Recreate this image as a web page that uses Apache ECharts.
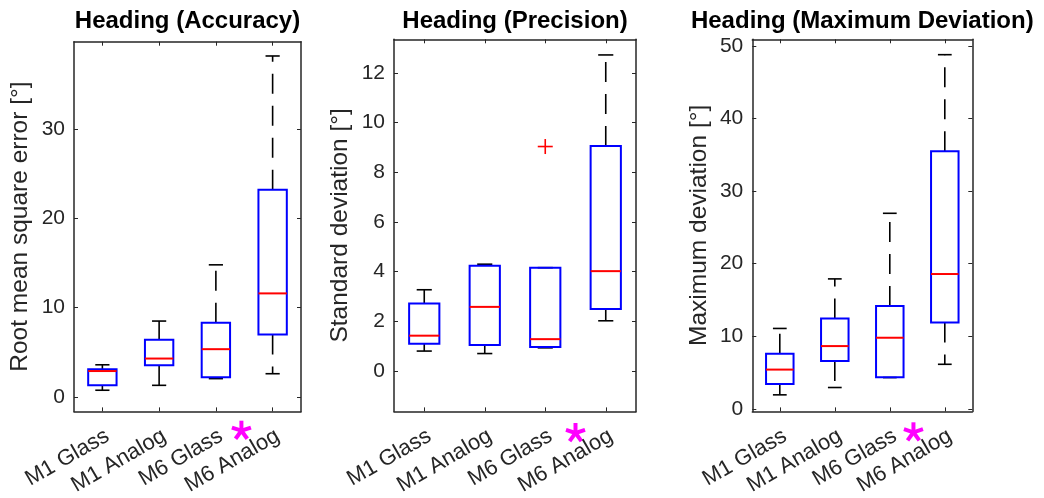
<!DOCTYPE html>
<html lang="en">
<head>
<meta charset="UTF-8">
<title>Heading boxplots</title>
<script src="https://cdn.jsdelivr.net/npm/echarts@6/dist/echarts.min.js"></script>
<style>
    html, body { margin: 0; padding: 0; background: #fff; }
    #main { width: 1044px; height: 498px; }
</style>
</head>
<body>
<div id="main"></div>
<script>
    // categories and box statistics: [lower whisker, q1, median, q3, upper whisker]
    var categories = ['M1 Glass', 'M1 Analog', 'M6 Glass', 'M6 Analog'];

    var accuracyBoxes = [
        [0.75, 1.3, 2.9, 3.1, 3.6],
        [1.3, 3.55, 4.3, 6.4, 8.5],
        [2.05, 2.2, 5.35, 8.3, 14.8],
        [2.6, 7.0, 11.6, 23.2, 38.2]
    ];
    var precisionBoxes = [
        [0.8, 1.09, 1.42, 2.72, 3.27],
        [0.7, 1.04, 2.58, 4.24, 4.3],
        [0.93, 0.96, 1.28, 4.16, 4.16],
        [2.02, 2.49, 4.02, 9.06, 12.73]
    ];
    var maxDevBoxes = [
        [1.92, 3.43, 5.4, 7.6, 11.07],
        [2.93, 6.58, 8.64, 12.44, 17.9],
        [4.3, 4.35, 9.79, 14.18, 26.94],
        [6.13, 11.9, 18.57, 35.5, 48.8]
    ];

    // outliers: [category index, value]
    var accuracyOutliers = [];
    var precisionOutliers = [[2, 9.04]];
    var maxDevOutliers = [];

    // y tick values
    var accuracyTicks = [0, 10, 20, 30];
    var precisionTicks = [0, 2, 4, 6, 8, 10, 12];
    var maxDevTicks = [0, 10, 20, 30, 40, 50];

    var titles = ['Heading (Accuracy)', 'Heading (Precision)', 'Heading (Maximum Deviation)'];
    var yNames = ['Root mean square error [°]', 'Standard deviation [°]', 'Maximum deviation [°]'];

    var panels = [
        {boxes: accuracyBoxes, outliers: accuracyOutliers, ticks: accuracyTicks, min: -1.62, max: 39.8,
            grid: {left: 74, top: 41.7, width: 227, height: 370}, star: 0.45},
        {boxes: precisionBoxes, outliers: precisionOutliers, ticks: precisionTicks, min: -1.63, max: 13.36,
            grid: {left: 394, top: 39.3, width: 242, height: 374.7}, star: 0.5},
        {boxes: maxDevBoxes, outliers: maxDevOutliers, ticks: maxDevTicks, min: -0.36, max: 50.92,
            grid: {left: 752.3, top: 39.3, width: 220, height: 374}, star: 0.43}
    ];

    var FONT = 'Liberation Sans, Arial, sans-serif';
    var AXIS = '#262626';

    function renderBox(params, api) {
        var idx = api.value(0);
        var lo = api.coord([idx, api.value(1)]);
        var q1 = api.coord([idx, api.value(2)]);
        var md = api.coord([idx, api.value(3)]);
        var q3 = api.coord([idx, api.value(4)]);
        var hi = api.coord([idx, api.value(5)]);
        var band = api.size([1, 0])[0];
        var half = band * 0.25, cap = band * 0.125;
        var x = q1[0];
        var dashed = {stroke: '#000', lineWidth: 1.6, lineDash: [20, 12]};
        var solid = {stroke: '#000', lineWidth: 1.6};
        return {
            type: 'group',
            children: [
                {type: 'line', shape: {x1: x, y1: q3[1], x2: x, y2: hi[1]}, style: dashed},
                {type: 'line', shape: {x1: x, y1: q1[1], x2: x, y2: lo[1]}, style: dashed},
                {type: 'line', shape: {x1: x - cap, y1: hi[1], x2: x + cap, y2: hi[1]}, style: solid},
                {type: 'line', shape: {x1: x - cap, y1: lo[1], x2: x + cap, y2: lo[1]}, style: solid},
                {type: 'rect', shape: {x: x - half, y: q3[1], width: half * 2, height: q1[1] - q3[1]},
                    style: {fill: 'none', stroke: '#0000ff', lineWidth: 2}},
                {type: 'line', shape: {x1: x - half, y1: md[1], x2: x + half, y2: md[1]},
                    style: {stroke: '#ff0000', lineWidth: 2}}
            ]
        };
    }

    function renderPlus(params, api) {
        var p = api.coord([api.value(0), api.value(1)]);
        var s = 7.5;
        var st = {stroke: '#ff0000', lineWidth: 1.6};
        return {
            type: 'group',
            children: [
                {type: 'line', shape: {x1: p[0] - s, y1: p[1], x2: p[0] + s, y2: p[1]}, style: st},
                {type: 'line', shape: {x1: p[0], y1: p[1] - s, x2: p[0], y2: p[1] + s}, style: st}
            ]
        };
    }

    var option = {
        animation: false,
        grid: [],
        xAxis: [],
        yAxis: [],
        series: []
    };

    panels.forEach(function (p, i) {
        option.grid.push({left: p.grid.left, top: p.grid.top, width: p.grid.width, height: p.grid.height});
        ['bottom', 'top'].forEach(function (pos) {
            option.xAxis.push({
                type: 'category', gridIndex: i, position: pos, data: categories, boundaryGap: true,
                axisLine: {show: true, onZero: false, lineStyle: {color: AXIS, width: 1.5}},
                axisTick: {show: true, inside: true, alignWithLabel: true, length: 4, lineStyle: {color: AXIS}},
                axisLabel: {show: pos === 'bottom', interval: 0, rotate: 30, margin: 26,
                    padding: [0, -6, 0, 0],
                    fontSize: 22, color: AXIS, fontFamily: FONT},
                splitLine: {show: false}
            });
        });
        ['left', 'right'].forEach(function (pos) {
            option.yAxis.push({
                type: 'value', gridIndex: i, position: pos, min: p.min, max: p.max,
                axisLine: {show: true, onZero: false, lineStyle: {color: AXIS, width: 1.5}},
                axisTick: {show: true, inside: true, length: 4, customValues: p.ticks, lineStyle: {color: AXIS}},
                axisLabel: {show: pos === 'left', customValues: p.ticks, margin: 9,
                    fontSize: 21, color: AXIS, fontFamily: FONT},
                splitLine: {show: false},
                name: pos === 'left' ? yNames[i] : '',
                nameLocation: 'middle', nameGap: 41,
                nameTextStyle: {fontSize: 24.5, color: AXIS, fontFamily: FONT}
            });
        });
        option.series.push({
            type: 'custom', xAxisIndex: i * 2, yAxisIndex: i * 2,
            renderItem: renderBox,
            encode: {x: 0, y: [1, 2, 3, 4, 5]},
            data: p.boxes.map(function (row, k) { return [k].concat(row); })
        });
        option.series.push({
            type: 'custom', xAxisIndex: i * 2, yAxisIndex: i * 2,
            renderItem: renderPlus,
            encode: {x: 0, y: 1},
            data: p.outliers
        });
    });

    var myChart = echarts.init(document.getElementById('main'));
    myChart.setOption(option);

    // titles and significance stars
    var graphics = [];
    panels.forEach(function (p, i) {
        var g = p.grid;
        graphics.push({
            type: 'text', id: 'title' + i, x: g.left + g.width / 2, y: 21.5,
            style: {text: titles[i], align: 'center', verticalAlign: 'middle',
                font: 'bold 24px ' + FONT, fill: '#000'}
        });
        var a = myChart.convertToPixel({xAxisIndex: i * 2}, categories[2]);
        var b = myChart.convertToPixel({xAxisIndex: i * 2}, categories[3]);
        var cx = a + (b - a) * p.star;
        var cy = g.top + g.height + 19;
        var L = 10;
        var arms = [90, 18, 162, -54, 234].map(function (deg) {
            var r = deg * Math.PI / 180;
            return {type: 'line', shape: {x1: 0, y1: 0, x2: L * Math.cos(r), y2: -L * Math.sin(r)},
                style: {stroke: '#ff00ff', lineWidth: 4}};
        });
        graphics.push({type: 'group', id: 'star' + i, x: cx, y: cy, children: arms});
    });
    myChart.setOption({graphic: graphics});
</script>
</body>
</html>
